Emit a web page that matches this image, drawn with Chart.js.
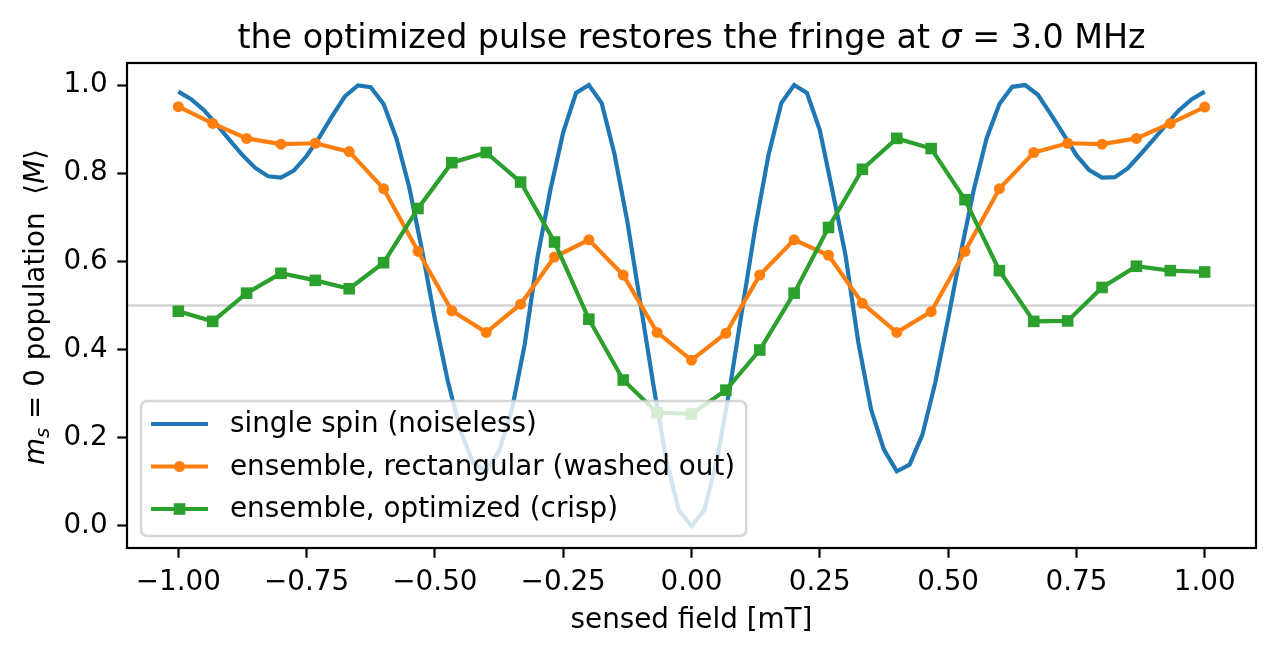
<!DOCTYPE html>
<html>
<head>
<meta charset="utf-8">
<script src="https://cdn.jsdelivr.net/npm/chart.js@4.4.1/dist/chart.umd.min.js"></script>
<style>
    html, body { margin: 0; padding: 0; background: #fff; }
    #wrap { position: relative; width: 1276px; height: 655px; }
</style>
</head>
<body>
<div id="wrap"><canvas id="fringeChart"></canvas></div>
<script>
'use strict';

// single spin, sampled every 0.025 mT
const spinX = [
    -1.000, -0.975, -0.950, -0.925, -0.900, -0.875, -0.850, -0.825, -0.800, -0.775,
    -0.750, -0.725, -0.700, -0.675, -0.650, -0.625, -0.600, -0.575, -0.550, -0.525,
    -0.500, -0.475, -0.450, -0.425, -0.400, -0.375, -0.350, -0.325, -0.300, -0.275,
    -0.250, -0.225, -0.200, -0.175, -0.150, -0.125, -0.100, -0.075, -0.050, -0.025,
    0.000, 0.025, 0.050, 0.075, 0.100, 0.125, 0.150, 0.175, 0.200, 0.225,
    0.250, 0.275, 0.300, 0.325, 0.350, 0.375, 0.400, 0.425, 0.450, 0.475,
    0.500, 0.525, 0.550, 0.575, 0.600, 0.625, 0.650, 0.675, 0.700, 0.725,
    0.750, 0.775, 0.800, 0.825, 0.850, 0.875, 0.900, 0.925, 0.950, 0.975, 1.000
];
const spinPop = [
    0.985, 0.968, 0.943, 0.910, 0.875, 0.841, 0.812, 0.793, 0.790, 0.806,
    0.839, 0.882, 0.930, 0.975, 0.999, 0.995, 0.957, 0.879, 0.768, 0.625,
    0.469, 0.329, 0.215, 0.142, 0.125, 0.170, 0.264, 0.412, 0.610, 0.762,
    0.893, 0.982, 1.000, 0.959, 0.843, 0.690, 0.508, 0.325, 0.155, 0.036,
    0.000, 0.036, 0.152, 0.315, 0.500, 0.682, 0.841, 0.959, 1.000, 0.982,
    0.898, 0.758, 0.615, 0.417, 0.264, 0.173, 0.124, 0.139, 0.207, 0.325,
    0.469, 0.621, 0.762, 0.879, 0.957, 0.996, 1.000, 0.978, 0.934, 0.888,
    0.841, 0.807, 0.790, 0.791, 0.811, 0.843, 0.876, 0.910, 0.943, 0.968, 0.985
];

// ensemble curves, 31 field points
const ensembleX = [
    -1.000, -0.933, -0.867, -0.800, -0.733, -0.667, -0.600, -0.533, -0.467, -0.400,
    -0.333, -0.267, -0.200, -0.133, -0.067, 0.000, 0.067, 0.133, 0.200, 0.267,
    0.333, 0.400, 0.467, 0.533, 0.600, 0.667, 0.733, 0.800, 0.867, 0.933, 1.000
];
const rectPop = [
    0.951, 0.913, 0.879, 0.866, 0.868, 0.849, 0.765, 0.623, 0.488, 0.439,
    0.503, 0.610, 0.649, 0.569, 0.439, 0.376, 0.437, 0.569, 0.649, 0.614,
    0.505, 0.439, 0.486, 0.623, 0.765, 0.847, 0.868, 0.866, 0.879, 0.913, 0.950
];
const optPop = [
    0.487, 0.464, 0.528, 0.573, 0.557, 0.538, 0.597, 0.720, 0.824, 0.847,
    0.780, 0.644, 0.469, 0.331, 0.257, 0.254, 0.308, 0.399, 0.528, 0.677,
    0.809, 0.879, 0.856, 0.740, 0.579, 0.464, 0.465, 0.541, 0.589, 0.579, 0.576
];

const seriesLabels = ['single spin (noiseless)', 'ensemble, rectangular (washed out)', 'ensemble, optimized (crisp)'];
const xTicks = [-1.00, -0.75, -0.50, -0.25, 0.00, 0.25, 0.50, 0.75, 1.00];
const yTicks = [0.0, 0.2, 0.4, 0.6, 0.8, 1.0];
const refLevel = 0.5;

const FONT = "'DejaVu Sans', 'Liberation Sans', sans-serif";
const BLUE = '#1f77b4', ORANGE = '#ff7f0e', GREEN = '#2ca02c';

function toPoints(xs, ys) {
    return xs.map((x, i) => ({ x: x, y: ys[i] }));
}

function fmt(v, d) {
    return (v < 0 ? '\u2212' : '') + Math.abs(v).toFixed(d);
}

// draws a run of text pieces with mixed fonts
function drawRuns(ctx, runs, x, y) {
    let total = 0;
    runs.forEach(r => { ctx.font = r.f; r.w = ctx.measureText(r.t).width; total += r.w; });
    let cx = x - total / 2;
    runs.forEach(r => {
        ctx.font = r.f;
        ctx.fillText(r.t, cx, y + (r.dy || 0));
        cx += r.w;
    });
}

const decor = {
    id: 'decor',
    beforeDatasetsDraw(chart) {
        const { ctx, chartArea: a, scales } = chart;
        const yy = scales.y.getPixelForValue(refLevel);
        ctx.save();
        ctx.strokeStyle = '#d3d3d3';
        ctx.lineWidth = 2.4;
        ctx.beginPath();
        ctx.moveTo(a.left, yy);
        ctx.lineTo(a.right, yy);
        ctx.stroke();
        ctx.restore();
    },
    afterDatasetsDraw(chart) {
        const { ctx, chartArea: a } = chart;
        ctx.save();

        // axes box
        ctx.strokeStyle = '#000';
        ctx.lineWidth = 2.2;
        ctx.strokeRect(a.left, a.top, a.right - a.left, a.bottom - a.top);

        // legend, lower left inside the axes
        const fs = 27.8;
        ctx.font = fs + 'px ' + FONT;
        const textW = Math.max(...seriesLabels.map(t => ctx.measureText(t).width));
        const bx = a.left + 14, bh = 135, by = a.bottom - 12 - bh;
        const bw = 89 + textW + 11;
        ctx.beginPath();
        ctx.roundRect(bx, by, bw, bh, 6);
        ctx.fillStyle = 'rgba(255,255,255,0.8)';
        ctx.fill();
        ctx.strokeStyle = 'rgba(204,204,204,0.8)';
        ctx.lineWidth = 2.5;
        ctx.stroke();

        const colors = [BLUE, ORANGE, GREEN];
        seriesLabels.forEach((label, i) => {
            const ry = by + 23 + i * 42.5;
            ctx.strokeStyle = colors[i];
            ctx.fillStyle = colors[i];
            ctx.lineWidth = 4.2;
            ctx.beginPath();
            ctx.moveTo(bx + 10, ry);
            ctx.lineTo(bx + 67, ry);
            ctx.stroke();
            const mx = bx + 38.5;
            if (i === 1) {
                ctx.beginPath();
                ctx.arc(mx, ry, 5.5, 0, Math.PI * 2);
                ctx.fill();
            } else if (i === 2) {
                ctx.fillRect(mx - 5.8, ry - 5.8, 11.6, 11.6);
            }
            ctx.fillStyle = '#000';
            ctx.textBaseline = 'middle';
            ctx.textAlign = 'left';
            ctx.fillText(label, bx + 89, ry + 1);
        });
        ctx.restore();
    },
    afterDraw(chart) {
        const { ctx, chartArea: a } = chart;
        const cx = (a.left + a.right) / 2;
        const reg = size => size + 'px ' + FONT;
        const ital = size => 'italic ' + size + 'px ' + FONT;
        ctx.save();
        ctx.fillStyle = '#000';
        ctx.textBaseline = 'alphabetic';
        ctx.textAlign = 'left';

        drawRuns(ctx, [
            { t: 'the optimized pulse restores the fringe at ', f: reg(33.3) },
            { t: '\u03c3', f: ital(33.3) },
            { t: ' = 3.0 MHz', f: reg(33.3) }
        ], cx, 48);

        drawRuns(ctx, [{ t: 'sensed field [mT]', f: reg(27.8) }], cx, 628);

        ctx.translate(44, 307);
        ctx.rotate(-Math.PI / 2);
        drawRuns(ctx, [
            { t: 'm', f: ital(27.8) },
            { t: 's', f: ital(19.5), dy: 4.5 },
            { t: ' = 0 population  \u27e8', f: reg(27.8) },
            { t: 'M', f: ital(27.8) },
            { t: '\u27e9', f: reg(27.8) }
        ], 0, 0);
        ctx.restore();
    }
};

function axisGrid() {
    return {
        display: true,
        drawOnChartArea: false,
        drawTicks: true,
        tickLength: 9.7,
        tickWidth: 2.2,
        tickColor: '#000'
    };
}

new Chart(document.getElementById('fringeChart'), {
    type: 'line',
    data: {
        datasets: [
            {
                label: seriesLabels[0],
                data: toPoints(spinX, spinPop),
                borderColor: BLUE,
                borderWidth: 4.2,
                pointRadius: 0,
                tension: 0,
                order: 3
            },
            {
                label: seriesLabels[1],
                data: toPoints(ensembleX, rectPop),
                borderColor: ORANGE,
                backgroundColor: ORANGE,
                borderWidth: 4.2,
                pointStyle: 'circle',
                pointRadius: 5.5,
                pointBorderWidth: 0,
                pointBackgroundColor: ORANGE,
                tension: 0,
                order: 2
            },
            {
                label: seriesLabels[2],
                data: toPoints(ensembleX, optPop),
                borderColor: GREEN,
                backgroundColor: GREEN,
                borderWidth: 4.2,
                pointStyle: 'rect',
                pointRadius: 8.2,
                pointBorderWidth: 0,
                pointBackgroundColor: GREEN,
                tension: 0,
                order: 1
            }
        ]
    },
    options: {
        responsive: true,
        maintainAspectRatio: false,
        animation: false,
        events: [],
        layout: { padding: { top: 63, right: 20, left: 0, bottom: 0 } },
        plugins: {
            legend: { display: false },
            title: { display: false },
            tooltip: { enabled: false }
        },
        scales: {
            x: {
                type: 'linear',
                min: -1.1,
                max: 1.1,
                afterBuildTicks: s => { s.ticks = xTicks.map(v => ({ value: v })); },
                afterFit: s => { s.height = 107; },
                grid: axisGrid(),
                border: { display: false },
                ticks: {
                    autoSkip: false,
                    maxRotation: 0,
                    padding: 8,
                    color: '#000',
                    font: { family: FONT, size: 27.8 },
                    callback: v => fmt(v, 2)
                }
            },
            y: {
                type: 'linear',
                min: -0.05,
                max: 1.05,
                afterBuildTicks: s => { s.ticks = yTicks.map(v => ({ value: v })); },
                afterFit: s => { s.width = 127; },
                grid: axisGrid(),
                border: { display: false },
                ticks: {
                    autoSkip: false,
                    padding: 9.7,
                    color: '#000',
                    font: { family: FONT, size: 27.8 },
                    callback: v => fmt(v, 1)
                }
            }
        }
    },
    plugins: [decor]
});
</script>
</body>
</html>
